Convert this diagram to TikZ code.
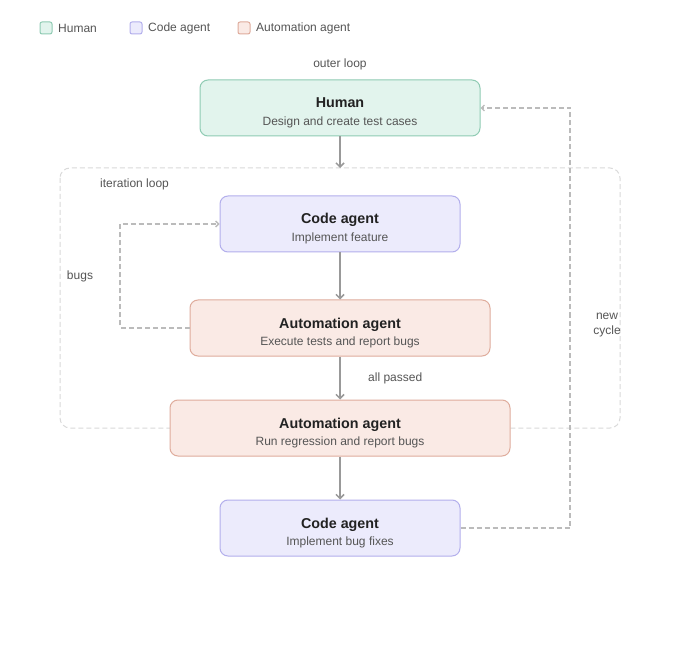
\documentclass[tikz,border=0pt]{standalone}
\usepackage{fontspec}
\setmainfont{Liberation Sans}
\usetikzlibrary{arrows.meta}
\definecolor{humfill}{HTML}{E2F4ED}
\definecolor{humdraw}{HTML}{8FCBB3}
\definecolor{codfill}{HTML}{ECEBFC}
\definecolor{coddraw}{HTML}{B3AFEC}
\definecolor{autfill}{HTML}{FAEAE5}
\definecolor{autdraw}{HTML}{DFAC9C}
\definecolor{titlec}{HTML}{222222}
\definecolor{subc}{HTML}{555555}
\definecolor{labc}{HTML}{555555}
\definecolor{arrc}{HTML}{999999}
\definecolor{dashc}{HTML}{BBBBBB}
\definecolor{loopc}{HTML}{DADADA}
\tikzset{
  box/.style={rounded corners=8pt, line width=1pt, inner sep=0pt, minimum height=56pt},
  humbox/.style={box, fill=humfill, draw=humdraw},
  codbox/.style={box, fill=codfill, draw=coddraw},
  autbox/.style={box, fill=autfill, draw=autdraw},
  ttl/.style={anchor=base, inner sep=0pt, text=titlec, font=\fontsize{14.3}{16}\selectfont\bfseries},
  sub/.style={anchor=base, inner sep=0pt, text=subc, font=\fontsize{12}{14}\selectfont},
  leg/.style={rounded corners=2pt, line width=1pt, minimum width=12pt, minimum height=12pt, inner sep=0pt},
  lab/.style={text=labc, inner sep=0pt, font=\fontsize{12}{14}\selectfont},
  flow/.style={draw=arrc, line width=1.5pt, -{Straight Barb[length=4pt,width=8pt]}},
  back/.style={draw=dashc, line width=1.3pt, dash pattern=on 5pt off 3pt, -{Straight Barb[length=3pt,width=6pt]}},
}
\begin{document}
\begin{tikzpicture}[x=1pt,y=-1pt]
\useasboundingbox (0,0) rectangle (680,660);
\fill[white] (0,0) rectangle (680,660);
% legend
\node[leg, fill=humfill, draw=humdraw] (lh) at (46,28) {};
\node[lab, anchor=west] (lht) at (58,28) {Human};
\node[leg, fill=codfill, draw=coddraw] (lc) at (136,28) {};
\node[lab, anchor=west] (lct) at (148,28) {Code agent};
\node[leg, fill=autfill, draw=autdraw] (la) at (244,28) {};
\node[lab, anchor=west] (lat) at (256,28) {Automation agent};
% iteration loop container
\draw[loopc, line width=1pt, dash pattern=on 5pt off 3pt, rounded corners=10pt] (60,168) rectangle (620,428);
\coordinate (looptop) at (340,168);
\node[lab, anchor=west] (itl) at (100,184) {iteration loop};
\node[lab] (outl) at (340,64) {outer loop};
% boxes
\node[humbox, minimum width=280pt] (hum) at (340,108) {};
\node[ttl] (humt) at (340,108) {Human};
\node[sub] (hums) at (340,125.5) {Design and create test cases};
\node[codbox, minimum width=240pt] (cod1) at (340,224) {};
\node[ttl] (cod1t) at (340,224) {Code agent};
\node[sub] (cod1s) at (340,241.5) {Implement feature};
\node[autbox, minimum width=300pt] (aut1) at (340,328) {};
\node[ttl] (aut1t) at (340,328) {Automation agent};
\node[sub] (aut1s) at (340,345.5) {Execute tests and report bugs};
\node[autbox, minimum width=340pt] (aut2) at (340,428) {};
\node[ttl] (aut2t) at (340,428) {Automation agent};
\node[sub] (aut2s) at (340,445.5) {Run regression and report bugs};
\node[codbox, minimum width=240pt] (cod2) at (340,528) {};
\node[ttl] (cod2t) at (340,528) {Code agent};
\node[sub] (cod2s) at (340,545.5) {Implement bug fixes};
% flow arrows
\draw[flow] (hum.south) -- (looptop);
\draw[flow] (cod1.south) -- (cod1.south |- aut1.north);
\draw[flow] (aut1.south) -- (aut1.south |- aut2.north);
\draw[flow] (aut2.south) -- (aut2.south |- cod2.north);
% back loops
\draw[back] (aut1.west) -- (120,328) -- (120,224) -- (cod1.west);
\draw[back] (cod2.east) -- (570,528) -- (570,108) -- (hum.east);
% labels
\node[lab] (bugs) at (80,276) {bugs};
\node[lab, anchor=west] (allp) at (368,378) {all passed};
\node[lab, align=center] (newc) at (607,325) {new\\[1pt]cycle};
\end{tikzpicture}
\end{document}
